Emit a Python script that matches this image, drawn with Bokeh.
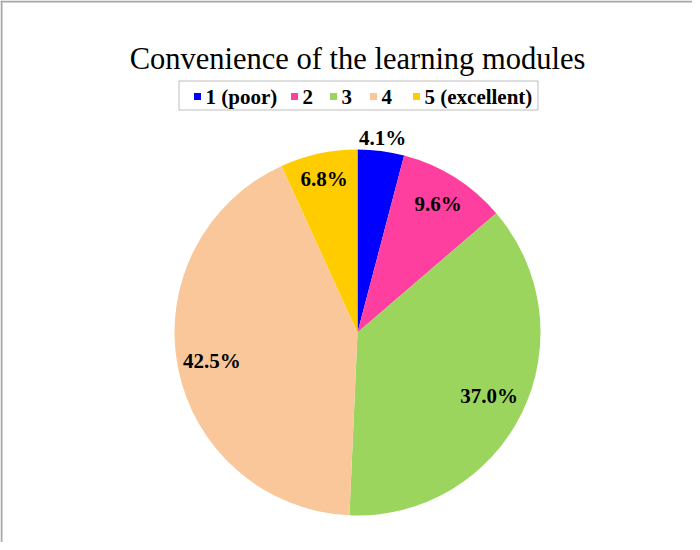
import math
from bokeh.plotting import figure
from bokeh.models import ColumnDataSource, Span, Label, LabelSet, BoxAnnotation
from bokeh.embed import file_html
from bokeh.resources import INLINE

# ---- data ----
categories = ["1 (poor)", "2", "3", "4", "5 (excellent)"]
percentages = [4.1, 9.6, 37.0, 42.5, 6.8]
colors = ["#0000FF", "#FF3FA0", "#9BD55E", "#F9C79A", "#FFCC00"]
title_text = "Convenience of the learning modules"

# ---- layout parameters (screen-like units) ----
W, H = 692, 542
cx, cy, R = 357, 210, 183
label_radial = [1.07, 0.83, 0.80, 0.81, 0.86]
legend_marker_x = [197, 294, 333, 373, 416]
legend_y = 446
legend_box = dict(left=178.5, right=537.5, bottom=432.5, top=461.5)
SERIF = "Liberation Serif"

total = sum(percentages)
starts, ends, lx, ly, texts = [], [], [], [], []
cum = 0.0
for v, f in zip(percentages, label_radial):
    a0 = math.pi / 2 - 2 * math.pi * cum / total
    cum += v
    a1 = math.pi / 2 - 2 * math.pi * cum / total
    starts.append(a0)
    ends.append(a1)
    mid = (a0 + a1) / 2
    lx.append(cx + f * R * math.cos(mid))
    ly.append(cy + f * R * math.sin(mid))
    texts.append(f"{v:.1f}%")

src = ColumnDataSource(dict(cat=categories, val=percentages, color=colors,
                            start=starts, end=ends, lx=lx, ly=ly, txt=texts))

p = figure(width=W, height=H, x_range=(0, W), y_range=(0, H),
           output_backend="svg", toolbar_location=None, min_border=0,
           background_fill_color="white", border_fill_color="white")
p.axis.visible = False
p.grid.visible = False
p.outline_line_color = None

p.wedge(x=cx, y=cy, radius=R, start_angle="start", end_angle="end",
        direction="clock", fill_color="color", line_color=None, source=src)

labels = LabelSet(x="lx", y="ly", text="txt", source=src,
                  text_align="center", text_baseline="middle",
                  text_font=SERIF, text_font_style="bold",
                  text_font_size="21px", text_color="black")
p.add_layout(labels)

p.add_layout(Label(x=cx, y=H - 58, text=title_text, text_align="center",
                   text_baseline="alphabetic", text_font=SERIF,
                   text_font_size="30.5px", text_color="black"))

# ---- legend (drawn by hand so the serif font is honoured) ----
p.add_layout(BoxAnnotation(**legend_box, fill_color="white", fill_alpha=1,
                           line_color="#222222", line_width=1, level="underlay"))
leg_src = ColumnDataSource(dict(
    mx=legend_marker_x, tx=[x + 8 for x in legend_marker_x],
    y=[legend_y] * len(categories), cat=categories, color=colors))
p.scatter(x="mx", y="y", marker="square", size=7, fill_color="color",
          line_color=None, source=leg_src)
p.add_layout(LabelSet(x="tx", y="y", text="cat", source=leg_src,
                      text_font=SERIF, text_font_style="bold",
                      text_font_size="21px", text_color="black",
                      text_align="left", text_baseline="middle"))

p.add_layout(Span(location=1, dimension="height", line_color="#A8A8A8", line_width=2))
p.add_layout(Span(location=H - 1, dimension="width", line_color="#A8A8A8", line_width=2))

open("out.html", "w").write(file_html(p, INLINE))
